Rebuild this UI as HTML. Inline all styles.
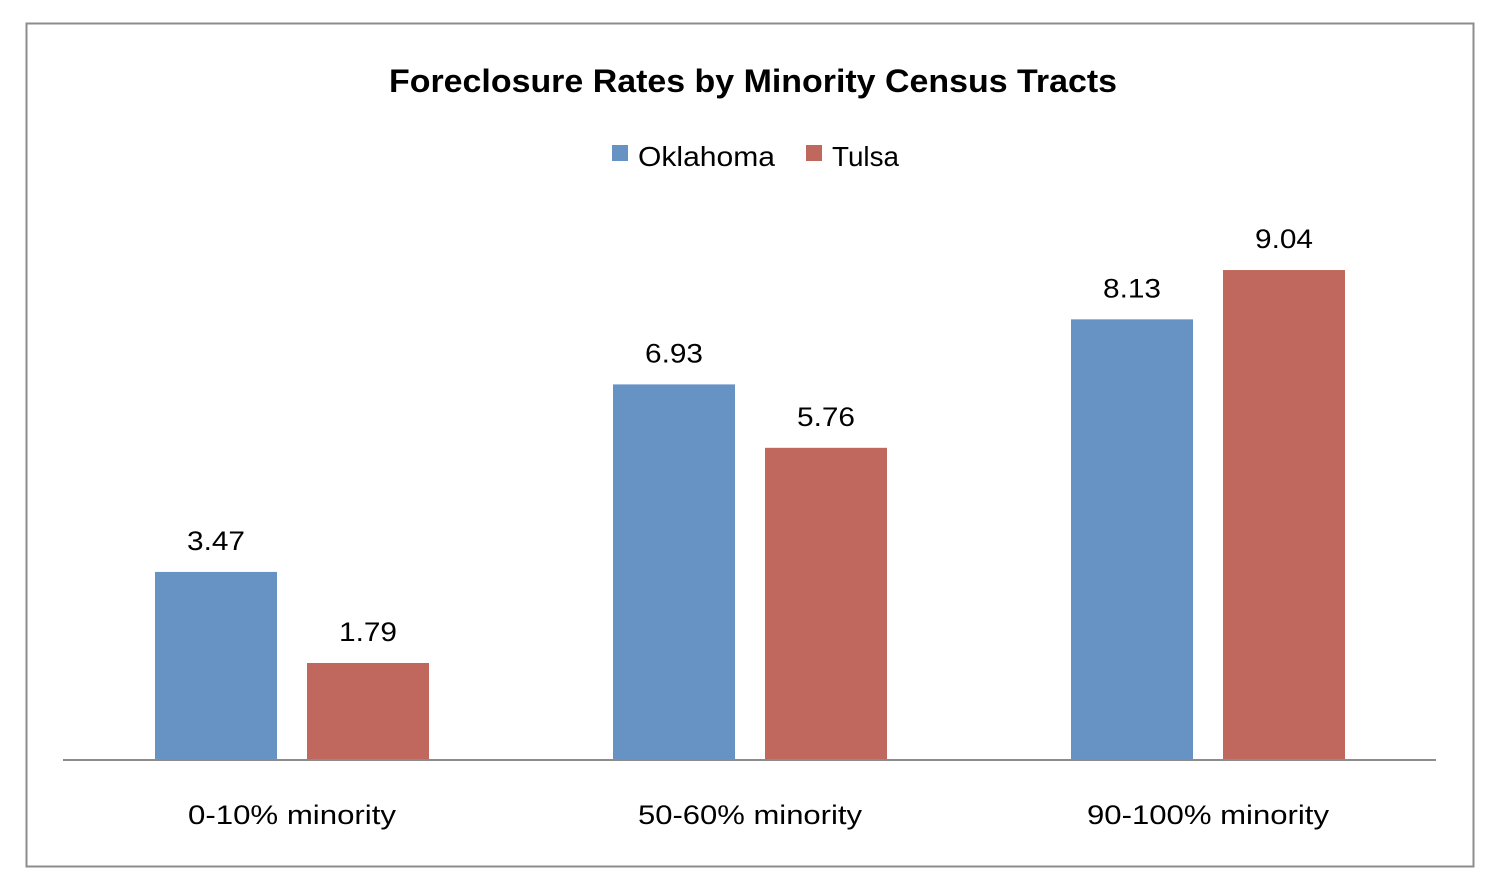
<!DOCTYPE html>
<html><head><meta charset="utf-8"><style>
body{margin:0;background:#fff;}
svg{display:block;font-family:"Liberation Sans",sans-serif;}
</style></head><body>
<svg id="chart" width="1502" height="892" viewBox="0 0 1502 892">
<rect x="26.5" y="23.5" width="1447" height="843" fill="#fff" stroke="#8c8c8c" stroke-width="2"/>
<text x="753" y="92" text-anchor="middle" font-size="32" font-weight="bold" fill="#000" textLength="728" lengthAdjust="spacingAndGlyphs">Foreclosure Rates by Minority Census Tracts</text>
<g>
<rect x="612" y="145" width="16" height="16" fill="#6792c4"/>
<text x="638" y="166" font-size="28" fill="#000" textLength="137" lengthAdjust="spacingAndGlyphs">Oklahoma</text>
<rect x="806" y="145" width="16" height="16" fill="#c0685e"/>
<text x="832" y="166" font-size="28" fill="#000" textLength="67" lengthAdjust="spacingAndGlyphs">Tulsa</text>
</g>
<g id="bars"></g>
<line x1="63" y1="760" x2="1436" y2="760" stroke="#8c8c8c" stroke-width="2"/>
<g id="labels"></g>
</svg>
<script>
const categories = ["0-10% minority", "50-60% minority", "90-100% minority"];
const oklahoma = [3.47, 6.93, 8.13];
const tulsa = [1.79, 5.76, 9.04];
const valueLabels = [["3.47","6.93","8.13"],["1.79","5.76","9.04"]];

const NS = "http://www.w3.org/2000/svg";
const baseY = 760, pxPerUnit = 54.2;
const yScale = v => baseY - v * pxPerUnit;
const xCenter = i => 291 + i * 458;
const series = [oklahoma, tulsa];
const colors = ["#6792c4", "#c0685e"];
const offsets = [-136, 16];
const barW = 122;
const catWidths = [208, 224, 242];
const barsG = document.getElementById('bars');
const labelsG = document.getElementById('labels');
const seriesNames = ["oklahoma", "tulsa"];
series.forEach((vals, s) => {
  vals.forEach((v, i) => {
    const x = xCenter(i) + offsets[s];
    const r = document.createElementNS(NS, 'rect');
    r.setAttribute('x', x); r.setAttribute('y', yScale(v));
    r.setAttribute('width', barW); r.setAttribute('height', baseY - yScale(v));
    r.setAttribute('fill', colors[s]);
    
    
    barsG.appendChild(r);
    const t = document.createElementNS(NS, 'text');
    t.setAttribute('x', x + barW / 2); t.setAttribute('y', yScale(v) - 22);
    t.setAttribute('text-anchor', 'middle'); t.setAttribute('font-size', '27');
    t.setAttribute('textLength', 58); t.setAttribute('lengthAdjust', 'spacingAndGlyphs');
    t.textContent = valueLabels[s][i];
    
    
    labelsG.appendChild(t);
  });
});
categories.forEach((c, i) => {
  const t = document.createElementNS(NS, 'text');
  t.setAttribute('x', xCenter(i) + 1); t.setAttribute('y', 824);
  t.setAttribute('text-anchor', 'middle'); t.setAttribute('font-size', '27');
  t.setAttribute('textLength', catWidths[i]); t.setAttribute('lengthAdjust', 'spacingAndGlyphs');
  t.textContent = c;
  
  
  labelsG.appendChild(t);
});
</script>
</body></html>
